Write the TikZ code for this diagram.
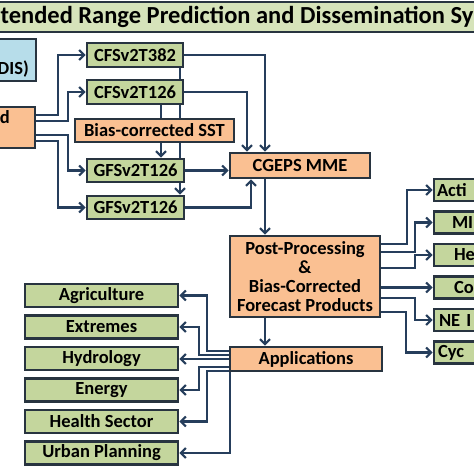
\documentclass[tikz,border=0pt]{standalone}
\usepackage{fontspec}
\setmainfont{Carlito}
\usetikzlibrary{arrows.meta,backgrounds}
\definecolor{titlegreen}{RGB}{214,227,186}
\definecolor{modelgreen}{RGB}{196,214,157}
\definecolor{productorange}{RGB}{250,192,146}
\definecolor{obsblue}{RGB}{183,221,234}
\definecolor{boxline}{RGB}{40,52,64}
\definecolor{arrowblue}{RGB}{38,62,92}
\newcommand{\boxfont}{\fontsize{18.5}{19}\selectfont\bfseries}
\newcommand{\titlefont}{\fontsize{24.5}{26}\selectfont\bfseries}
\tikzstyle{titlebar} = [rectangle, draw=boxline, line width=2.6pt, fill=titlegreen, minimum width=500pt, minimum height=30pt, font=\titlefont]
\tikzstyle{model} = [rectangle, text centered, draw=boxline, line width=2.6pt, fill=modelgreen, font=\boxfont, inner sep=0pt]
\tikzstyle{product} = [rectangle, text centered, draw=boxline, line width=2.6pt, fill=productorange, font=\boxfont, inner sep=0pt]
\tikzstyle{sector} = [model, minimum width=153pt, minimum height=23pt]
\tikzstyle{service} = [model, minimum width=85pt, minimum height=22pt, text width=77pt, align=left]
\tikzstyle{arrow} = [line width=2.1pt, draw=arrowblue, -{Straight Barb[length=5pt,width=10pt]}]
\tikzstyle{link} = [line width=2.1pt, draw=arrowblue]
\begin{document}
\begin{tikzpicture}[x=1pt, y=-1pt, node distance=31.5pt]
  \useasboundingbox (0,0) rectangle (474,474);
  \clip (0,0) rectangle (474,474);

  \node (title) [titlebar] at (237,17) {tended Range Prediction and Dissemination Sy};

  \node (obs) [rectangle, draw=boxline, line width=2.6pt, fill=obsblue, minimum width=45pt, minimum height=42pt] at (13.5,60) {};
  \node (obslabel) [font=\boxfont, anchor=east, inner sep=0pt] at (29,69) {DIS)};
  \node (input) [product, minimum width=44pt, minimum height=41pt] at (13,127.5) {};
  \node (inputlabel) [font=\boxfont, anchor=east, inner sep=0pt] at (10,117) {ed};

  \node (cfs382) [model, minimum width=96pt, minimum height=24pt] at (135,55) {CFSv2T382};
  \node (cfs126) [model, minimum width=96pt, minimum height=24pt] at (135,92) {CFSv2T126};
  \node (bias) [product, minimum width=159pt, minimum height=23pt] at (154.5,130.5) {Bias-corrected SST};
  \node (gfs1) [model, minimum width=97pt, minimum height=23pt] at (135.5,170.5) {GFSv2T126};
  \node (gfs2) [model, minimum width=97pt, minimum height=23pt] at (135.5,207.5) {GFSv2T126};
  \node (cgeps) [product, minimum width=140pt, minimum height=25pt] at (300,165.5) {CGEPS MME};
  \node (post) [product, minimum width=150pt, minimum height=81pt, align=center] at (305,276.5) {Post-Processing\\\&\\Bias-Corrected\\Forecast Products};
  \node (apps) [product, minimum width=152pt, minimum height=24pt] at (306,359) {Applications};

  % sectors
  \node (agri) [sector] at (101.5,295.5) {Agriculture};
  \node (extr) [sector, below of=agri] {Extremes};
  \node (hydro) [sector, below of=extr] {Hydrology};
  \node (energy) [sector, below of=hydro] {Energy};
  \node (health) [sector, below of=energy] {Health Sector};
  \node (urban) [sector, below of=health] {Urban Planning};

  % services
  \begin{scope}[node distance=32.5pt]
    \node (acti) [service] at (476.5,190) {\hspace*{-1pt}Acti};
    \node (mi) [service, below of=acti] {\hspace*{14pt}MI};
    \node (he) [service, below of=mi] {\hspace*{16pt}He};
    \node (co) [service, below of=he] {\hspace*{16pt}Co};
    \node (ne) [service, below of=co] {\hspace*{1pt}NE I};
    \node (cyc) [service, below of=ne] {\hspace*{0pt}Cyc};
  \end{scope}

  \begin{scope}[on background layer]
    \fill [white] (0,0) rectangle (474,474);
    \draw [arrow] ([xshift=45pt]cfs382.south) -- ([xshift=44.5pt]gfs2.north);
  \end{scope}

  \draw [arrow] ([yshift=12.5pt]input.east) -- ++(22,0) |- (cfs382.west);
  \draw [arrow] ([yshift=6.5pt]input.east) -- ++(32,0) |- (cfs126.west);
  \draw [arrow] ([yshift=-7.5pt]input.east) -- ++(32,0) |- (gfs1.west);
  \draw [arrow] ([yshift=-13.5pt]input.east) -- ++(22,0) |- (gfs2.west);

  \draw [link] ([xshift=26pt]cfs126.south) -- ([xshift=6.5pt]bias.north);
  \draw [arrow] ([xshift=6.5pt]bias.south) -- ([xshift=25.5pt]gfs1.north);

  \draw [arrow] (cfs382.east) -| ([xshift=-35pt]cgeps.north);
  \draw [arrow] (cfs126.east) -| ([xshift=-53pt]cgeps.north);
  \draw [arrow] (gfs1.east) -- (gfs1.east -| cgeps.west);
  \draw [arrow] (gfs2.east) -| ([xshift=-49pt]cgeps.south);
  \draw [arrow] ([xshift=-35pt]cgeps.south) -- ([xshift=-40pt]post.north);
  \draw [arrow] ([xshift=-40pt]post.south) -- ([xshift=-41pt]apps.north);

  \draw [arrow] ([yshift=8pt]apps.west) -- ++(-22,0) |- (agri.east);
  \draw [arrow] ([yshift=4pt]apps.west) -- ++(-30,0) |- (extr.east);
  \draw [arrow] (apps.west) -- (apps.west -| hydro.east);
  \draw [arrow] ([yshift=-8pt]apps.west) -- ++(-30,0) |- (energy.east);
  \draw [arrow] ([yshift=-12pt]apps.west) -- ++(-22,0) |- (health.east);
  \draw [arrow] ([xshift=1pt]apps.south west) |- (urban.east);

  \draw [arrow] ([yshift=32.5pt]post.east) -- ++(26,0) |- (acti.west);
  \draw [arrow] ([yshift=24.5pt]post.east) -- ++(34,0) |- (mi.west);
  \draw [arrow] ([yshift=8.5pt]post.east) -- ++(34,0) |- (he.west);
  \draw [arrow] (post.east |- co.west) -- (co.west);
  \draw [arrow] ([yshift=-21.5pt]post.east) -- ++(34,0) |- (ne.west);
  \draw [arrow] ([yshift=-35.5pt]post.east) -- ++(25,0) |- (cyc.west);
\end{tikzpicture}
\end{document}
